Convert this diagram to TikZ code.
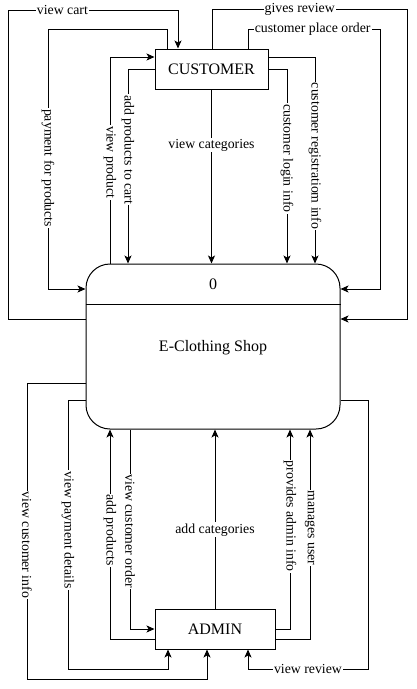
\documentclass[tikz,border=0pt]{standalone}
\usepackage{fontspec}
\setmainfont{Liberation Serif}
\usetikzlibrary{arrows.meta}
\tikzset{
	flow/.style={line width=1pt,-{Stealth[length=8pt,width=7pt,inset=2pt]}},
	lbl/.style={fill=white,inner sep=1pt,font=\fontsize{13.8}{16}\selectfont},
	vlbl/.style={lbl,rotate=-90},
	ent/.style={draw,line width=1pt,inner sep=0pt,font=\fontsize{16}{18}\selectfont},
	proc/.style={draw,line width=1pt,rounded corners=24pt,minimum width=254pt,minimum height=165pt}
}

\begin{document}
\begin{tikzpicture}[x=1pt,y=-1pt]
	\useasboundingbox (0,0) rectangle (416,689);
	\node[ent,minimum width=113pt,minimum height=40pt] (cust) at (211.5,69) {CUSTOMER};
	\node[ent,minimum width=120pt,minimum height=40pt] (adm) at (215,629) {ADMIN};
	\node[proc] (shop) at (213,346.5) {};
	\draw[line width=1pt] (shop.west |- 0,304) -- (shop.east |- 0,304);
	\node[font=\fontsize{16}{18}\selectfont] (pid) at (213,284) {0};
	\node[font=\fontsize{16}{18}\selectfont] (pname) at (213,348) {E-Clothing Shop};

	\draw[flow] (shop.west |- 0,319) -- (8,319) -- (8,10) -- node[lbl,pos=0.32] (lcart) {view cart} (178,10) -- (cust.north -| 178,0);
	\draw[flow] (cust.north -| 167,0) -- (167,29) -- (48,29) -- node[vlbl,pos=0.535] (lpay) {payment for products} (48,289) -- (shop.west |- 0,289);
	\draw[flow] (shop.north -| 110,0) -- node[vlbl,pos=0.49] (lprod) {view product} (110,57) -- (cust.west |- 0,57);
	\draw[flow] (cust.west |- 0,69) -- (128,69) -- node[vlbl,pos=0.415] (ladd) {add products to cart} (shop.north -| 128,0);
	\draw[flow] (cust.south) -- node[lbl,pos=0.32] (lcat) {view categories} (shop.north -| cust.south);
	\draw[flow] (cust.east |- 0,69) -- (287,69) -- node[vlbl,pos=0.46] (llogin) {customer login info} (shop.north -| 287,0);
	\draw[flow] (cust.east |- 0,57) -- (315,57) -- node[vlbl,pos=0.48] (lreg) {customer registratiom info} (shop.north -| 315,0);
	\draw[flow] (cust.north -| 248,0) -- (248,29) -- node[lbl,pos=0.49] (lorder) {customer place order} (380,29) -- (380,289) -- (shop.east |- 0,289);
	\draw[flow] (cust.north -| 212,0) -- (212,9) -- node[lbl,pos=0.45] (lgive) {gives review} (407,9) -- (407,319) -- (shop.east |- 0,319);

	\draw[flow] (shop.west |- 0,383) -- (27,383) -- node[vlbl,pos=0.547] (lcinfo) {view customer info} (27,679) -- (207,679) -- (adm.south -| 207,0);
	\draw[flow] (shop.west |- 0,400) -- (68,400) -- node[vlbl,pos=0.483] (lpdet) {view payment details} (68,669) -- (168,669) -- (adm.south -| 168,0);
	\draw[flow] (adm.west |- 0,639) -- (110,639) -- node[vlbl,pos=0.52] (laddp) {add products} (shop.south -| 110,0);
	\draw[flow] (shop.south -| 130,0) -- node[vlbl,pos=0.51] (lcord) {view customer order} (130,629) -- (adm.west |- 0,629);
	\draw[flow] (adm.north) -- node[lbl,pos=0.44] (laddc) {add categories} (shop.south -| adm.north);
	\draw[flow] (adm.east |- 0,629) -- (290,629) -- node[vlbl,pos=0.565] (lainfo) {provides admin info} (shop.south -| 290,0);
	\draw[flow] (adm.east |- 0,639) -- (310,639) -- node[vlbl,pos=0.53] (luser) {manages user} (shop.south -| 310,0);
	\draw[flow] (shop.east |- 0,400) -- (368,400) -- (368,669) -- node[lbl,pos=0.5] (lrev) {view review} (248,669) -- (adm.south -| 248,0);
\end{tikzpicture}
\end{document}
